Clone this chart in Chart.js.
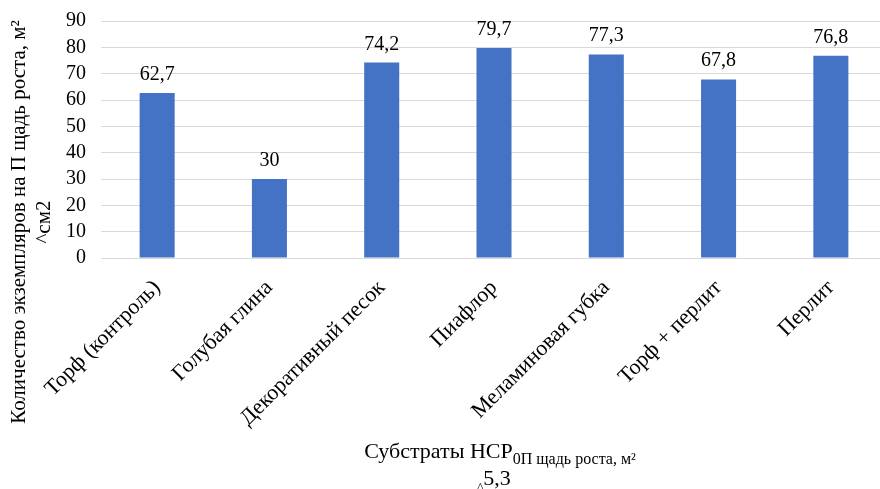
<!DOCTYPE html>
<html>
<head>
<meta charset="utf-8">
<script src="https://cdn.jsdelivr.net/npm/chart.js@4"></script>
<style>
  html, body { margin: 0; padding: 0; background: #fff; overflow: hidden; }
  #wrap { width: 880px; height: 489px; overflow: hidden; }
  canvas { display: block; }
</style>
</head>
<body>
<div id="wrap"><canvas id="c" width="887" height="489"></canvas></div>
<script>
// Substrates and number of plants per growth area
const categories = [
  'Торф (контроль)',
  'Голубая глина',
  'Декоративный песок',
  'Пиафлор',
  'Меламиновая губка',
  'Торф + перлит',
  'Перлит'
];
const values = [62.7, 30, 74.2, 79.7, 77.3, 67.8, 76.8];
const yMin = 0;
const yMax = 90;
const yStep = 10;

const yTitleMain = 'Количество экземпляров на П щадь роста, м²';
const yTitleSecond = '^см2';
const xTitleMain = 'Субстраты НСР';
const xTitleSub = '0П щадь роста, м²';
const xTitleCaret = '^';
const xTitleSecond = '5,3';

const FONT = '"Liberation Serif"';
const fmt = v => String(v).replace('.', ',');

// Value labels above each bar
const valueLabels = {
  id: 'valueLabels',
  afterDatasetsDraw(chart) {
    const ctx = chart.ctx;
    const meta = chart.getDatasetMeta(0);
    ctx.save();
    ctx.font = '20px ' + FONT;
    ctx.fillStyle = '#000';
    ctx.textAlign = 'center';
    ctx.textBaseline = 'alphabetic';
    meta.data.forEach((bar, i) => {
      ctx.fillText(fmt(values[i]), bar.x, bar.y - 13);
    });
    ctx.restore();
  }
};

// Axis titles with subscript parts
const axisTitles = {
  id: 'axisTitles',
  afterDraw(chart) {
    const ctx = chart.ctx;
    const area = chart.chartArea;
    const mid = (area.left + area.right) / 2;
    ctx.save();
    ctx.fillStyle = '#000';
    ctx.textBaseline = 'alphabetic';
    ctx.textAlign = 'left';

    // x title, line 1: main text + subscript
    let cx = mid + 6;
    ctx.font = '22px ' + FONT;
    const wMain = ctx.measureText(xTitleMain).width;
    ctx.font = '16px ' + FONT;
    const wSub = ctx.measureText(xTitleSub).width;
    let x0 = cx - (wMain + wSub) / 2;
    ctx.font = '22px ' + FONT;
    ctx.fillText(xTitleMain, x0, 458);
    ctx.font = '16px ' + FONT;
    ctx.fillText(xTitleSub, x0 + wMain, 464);

    // x title, line 2: small caret + value
    cx = mid;
    ctx.font = '13px ' + FONT;
    const wCaret = ctx.measureText(xTitleCaret).width;
    ctx.font = '22px ' + FONT;
    const wVal = ctx.measureText(xTitleSecond).width;
    x0 = cx - (wCaret + wVal) / 2;
    ctx.font = '13px ' + FONT;
    ctx.fillText(xTitleCaret, x0, 491);
    ctx.font = '22px ' + FONT;
    ctx.fillText(xTitleSecond, x0 + wCaret, 485);

    // y title, two rotated lines
    const cy = area.top + 201;
    ctx.textAlign = 'center';
    ctx.translate(25, cy);
    ctx.rotate(-Math.PI / 2);
    ctx.font = '21px ' + FONT;
    ctx.fillText(yTitleMain, 0, 0);
    ctx.fillText(yTitleSecond, 0, 25);
    ctx.restore();
  }
};

Chart.defaults.font.family = FONT;

new Chart(document.getElementById('c'), {
  type: 'bar',
  data: {
    labels: categories,
    datasets: [{
      data: values,
      backgroundColor: '#4472C4',
      borderWidth: 0,
      barPercentage: 0.312,
      categoryPercentage: 1
    }]
  },
  options: {
    responsive: false,
    animation: false,
    devicePixelRatio: 1,
    layout: { padding: { top: 21, right: 0, bottom: 0, left: 0 } },
    plugins: {
      legend: { display: false },
      tooltip: { enabled: false }
    },
    scales: {
      x: {
        grid: { display: false, drawTicks: false },
        border: { display: true, color: '#d9d9d9', width: 1 },
        ticks: {
          font: { family: FONT, size: 22 },
          color: '#000',
          minRotation: 45,
          maxRotation: 45,
          autoSkip: false,
          padding: 17
        },
        afterFit(scale) {
          scale.height = 231;
          scale.paddingLeft = 0;
          scale.paddingRight = 0;
        }
      },
      y: {
        min: yMin,
        max: yMax,
        grid: { color: '#d9d9d9', lineWidth: 1, drawTicks: false },
        border: { display: false },
        ticks: {
          stepSize: yStep,
          autoSkip: false,
          font: { family: FONT, size: 20 },
          color: '#000',
          padding: 15
        },
        afterFit(scale) {
          scale.width = 101;
          scale.paddingTop = 0;
          scale.paddingBottom = 0;
        }
      }
    }
  },
  plugins: [valueLabels, axisTitles]
});
</script>
</body>
</html>
